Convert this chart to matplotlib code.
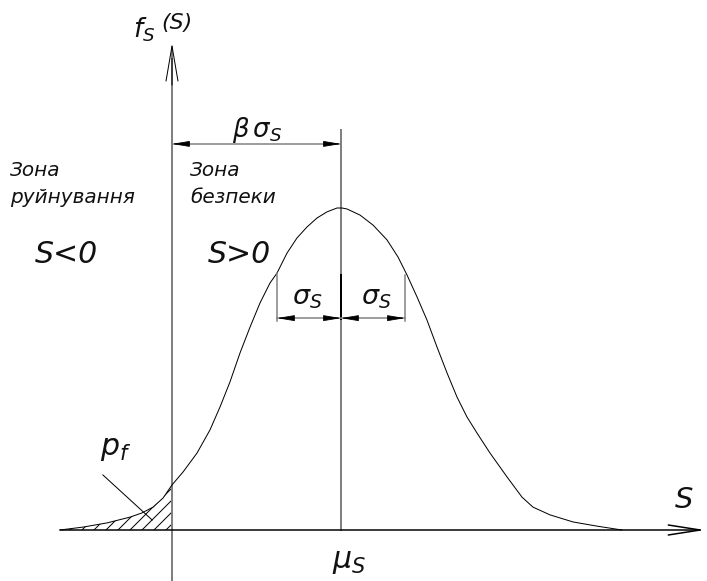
import matplotlib
matplotlib.use("Agg")
import matplotlib.pyplot as plt
from matplotlib.patches import ArrowStyle

plt.rcParams['mathtext.fontset'] = 'dejavusans'
plt.rcParams['hatch.linewidth'] = 1.0

# density curve (S in sigma units from the f-axis, f scaled to peak = 1)
curve_s = [-1.750, -1.391, -1.016, -0.656, -0.469, -0.297, -0.141, 0.000, 0.172, 0.391,
           0.594, 0.750, 0.906, 1.063, 1.219, 1.375, 1.531, 1.641, 1.797, 1.953, 2.109,
           2.266, 2.422, 2.578, 2.656, 2.734, 2.938, 3.141, 3.359, 3.531, 3.672, 3.828,
           3.984, 4.141, 4.297, 4.453, 4.609, 4.766, 4.969, 5.234, 5.469, 5.641, 5.906,
           6.266, 6.641, 7.031]
curve_f = [0.000, 0.009, 0.022, 0.040, 0.053, 0.071, 0.099, 0.140, 0.180, 0.239,
           0.311, 0.382, 0.460, 0.550, 0.630, 0.705, 0.767, 0.798, 0.860, 0.907, 0.941,
           0.969, 0.988, 1.000, 1.000, 0.997, 0.978, 0.947, 0.901, 0.848, 0.792, 0.724,
           0.652, 0.568, 0.488, 0.413, 0.351, 0.301, 0.239, 0.165, 0.102, 0.071, 0.047,
           0.025, 0.012, 0.000]

mu_s = 2.64      # mean
sigma_s = 1.0    # standard deviation
s_tail = -1.75   # left end of the S axis
s_max = 8.33     # arrow tip of the S axis
f_top = 1.512    # arrow tip of the f axis
mean_top = 1.242
beta_dim = 1.199
sigma_dim = 0.658
sigma_ext = [0.798, 0.792]

W, H = 707, 581
fig = plt.figure(figsize=(W / 72, H / 72), dpi=72)
ax = fig.add_axes([0, 0, 1, 1])
ax.set_xlim(-172 / 64, (W - 172) / 64)
ax.set_ylim((530 - H) / 322, 530 / 322)
ax.axis('off')

grey = '#808080'
font = dict(style='italic', color='#111111')

# hatched failure region (S < 0)
left = [i for i, s in enumerate(curve_s) if s <= 0]
ax.fill_between([curve_s[i] for i in left], [curve_f[i] for i in left], 0,
                hatch='//', facecolor='none', edgecolor='black', linewidth=0)

# axes
ax.plot([0, 0], [ax.get_ylim()[0], f_top - 0.05], color=grey, lw=2)
ax.annotate('', xy=(0, f_top), xytext=(0, f_top - 0.13),
            arrowprops=dict(arrowstyle=ArrowStyle('->', head_length=35, head_width=6),
                            mutation_scale=1, color='black', lw=1, shrinkA=0, shrinkB=0))
ax.annotate('', xy=(s_max, 0), xytext=(s_tail, 0),
            arrowprops=dict(arrowstyle=ArrowStyle('->', head_length=32, head_width=5),
                            mutation_scale=1, color='black', lw=1.5, shrinkA=0, shrinkB=0))

# mean line
ax.plot([mu_s, mu_s], [0, mean_top], color=grey, lw=2)
ax.plot([mu_s, mu_s], [sigma_dim - 0.003, sigma_ext[1]], color='black', lw=2)

# density curve
ax.plot(curve_s, curve_f, color='black', lw=1)

# sigma extension lines
ax.plot([mu_s - sigma_s, mu_s - sigma_s], [sigma_dim - 0.01, sigma_ext[0]], color=grey, lw=1.5)
ax.plot([mu_s + sigma_s, mu_s + sigma_s], [sigma_dim - 0.01, sigma_ext[1]], color=grey, lw=1.5)


def dim_line(x0, x1, y):
    ax.plot([x0, x1], [y, y], color=grey, lw=1.5)
    head = ArrowStyle('-|>', head_length=15, head_width=2.5)
    for a, b in [(x0 + 0.24, x0), (x1 - 0.24, x1)]:
        ax.annotate('', xy=(b, y), xytext=(a, y),
                    arrowprops=dict(arrowstyle=head, mutation_scale=1, color='black',
                                    lw=0.8, shrinkA=0, shrinkB=0))


dim_line(0, mu_s, beta_dim)
dim_line(mu_s - sigma_s, mu_s, sigma_dim)
dim_line(mu_s, mu_s + sigma_s, sigma_dim)

# p_f leader
ax.plot([-1.08, -0.31], [0.171, 0.031], color='black', lw=1)

# labels
ax.text(-0.61, 1.528, r'$f_S$', fontsize=26, ha='left', va='baseline', **font)
ax.text(-0.16, 1.555, '(S)', fontsize=22, ha='left', va='baseline', **font)
ax.text(1.33, 1.22, r'$\beta\,\sigma_S$', fontsize=26, ha='center', va='baseline', **font)
ax.text(-2.53, 1.099, 'Зона', fontsize=20, ha='left', va='baseline', **font)
ax.text(-2.53, 1.016, 'руйнування', fontsize=20, ha='left', va='baseline', **font)
ax.text(0.28, 1.099, 'Зона', fontsize=20, ha='left', va='baseline', **font)
ax.text(0.28, 1.016, 'безпеки', fontsize=20, ha='left', va='baseline', **font)
ax.text(-2.14, 0.829, 'S<0', fontsize=30, ha='left', va='baseline', **font)
ax.text(0.56, 0.829, 'S>0', fontsize=30, ha='left', va='baseline', **font)
ax.text(2.11, 0.699, r'$\sigma_S$', fontsize=27, ha='center', va='baseline', **font)
ax.text(3.19, 0.699, r'$\sigma_S$', fontsize=27, ha='center', va='baseline', **font)
ax.text(-1.125, 0.233, r'$p_f$', fontsize=30, ha='left', va='baseline', **font)
ax.text(2.5, -0.118, r'$\mu_S$', fontsize=30, ha='left', va='baseline', **font)
ax.text(7.86, 0.068, 'S', fontsize=29, ha='left', va='baseline', **font)

fig.savefig('out.png', dpi=72)
